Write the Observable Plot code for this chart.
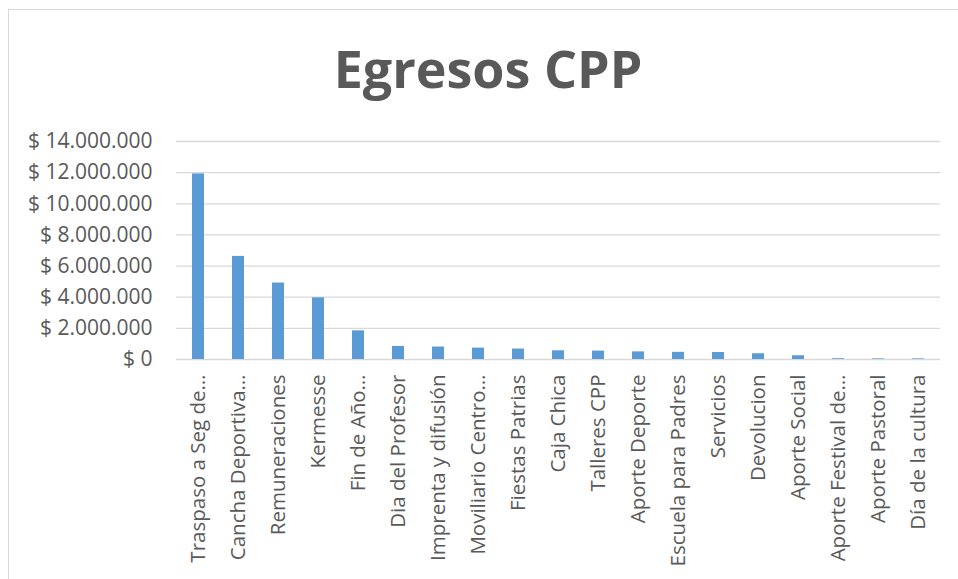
<!DOCTYPE html>
<html>
<head>
<meta charset="utf-8">
<script src="https://cdn.jsdelivr.net/npm/d3@7"></script>
<script src="https://cdn.jsdelivr.net/npm/@observablehq/plot@0.6"></script>
<style>
  html, body { margin: 0; padding: 0; background: #fff; }
  #wrap { position: relative; width: 958px; height: 579px; overflow: hidden; font-family: "Open Sans", sans-serif; }
  #frame { position: absolute; left: 8px; top: 9px; width: 960px; height: 600px; border-top: 1.5px solid #d9d9d9; border-left: 1.5px solid #d9d9d9; box-sizing: border-box; }
  #title { position: absolute; left: 0; width: 976px; top: 33px; text-align: center; font-family: "Open Sans", sans-serif; font-weight: 700; font-size: 52px; color: #595959; line-height: 70px; margin: 0; }
  #chart { position: absolute; left: 0; top: 0; }
</style>
</head>
<body>
<div id="wrap">
  <div id="frame"></div>
  <div id="chart"></div>
  <h2 id="title">Egresos CPP</h2>
</div>
<script>
const categories = [
  "Traspaso a Seg de…", "Cancha Deportiva…", "Remuneraciones", "Kermesse", "Fin de Año…",
  "Dia del Profesor", "Imprenta y difusión", "Moviliario Centro…", "Fiestas Patrias", "Caja Chica",
  "Talleres CPP", "Aporte Deporte", "Escuela para Padres", "Servicios", "Devolucion",
  "Aporte Social", "Aporte Festival de…", "Aporte Pastoral", "Día de la cultura"
];
const values = [
  11920000, 6620000, 4910000, 3960000, 1840000,
  840000, 800000, 730000, 670000, 560000,
  540000, 490000, 460000, 450000, 370000,
  240000, 50000, 40000, 40000
];
const yTicks = [0, 2000000, 4000000, 6000000, 8000000, 10000000, 12000000, 14000000];

const data = categories.map((c, i) => ({category: c, value: values[i]}));
const fmt = d => "$ " + d3.format(",")(d).replace(/,/g, ".");

const chart = Plot.plot({
  width: 958,
  height: 579,
  marginLeft: 176,
  marginRight: 18,
  marginTop: 141,
  marginBottom: 220,
  style: {fontFamily: "Open Sans, sans-serif", fontSize: "21px", color: "#595959", background: "transparent"},
  x: {domain: categories, paddingInner: 0.69, paddingOuter: 0.345, label: null},
  y: {domain: [0, 14000000], label: null},
  marks: [
    Plot.ruleY(yTicks, {stroke: "#d9d9d9", strokeWidth: 1.3}),
    Plot.barY(data, {x: "category", y: "value", fill: "#5b9bd5"}),
    Plot.axisY({ticks: yTicks, tickFormat: fmt, tickSize: 0, tickPadding: 24, fill: "#595959", fontSize: 21, label: null}),
    Plot.axisX({tickRotate: -90, tickSize: 0, tickPadding: 15, fill: "#595959", fontSize: 20.5, label: null})
  ]
});
document.getElementById("chart").appendChild(chart);
</script>
</body>
</html>
